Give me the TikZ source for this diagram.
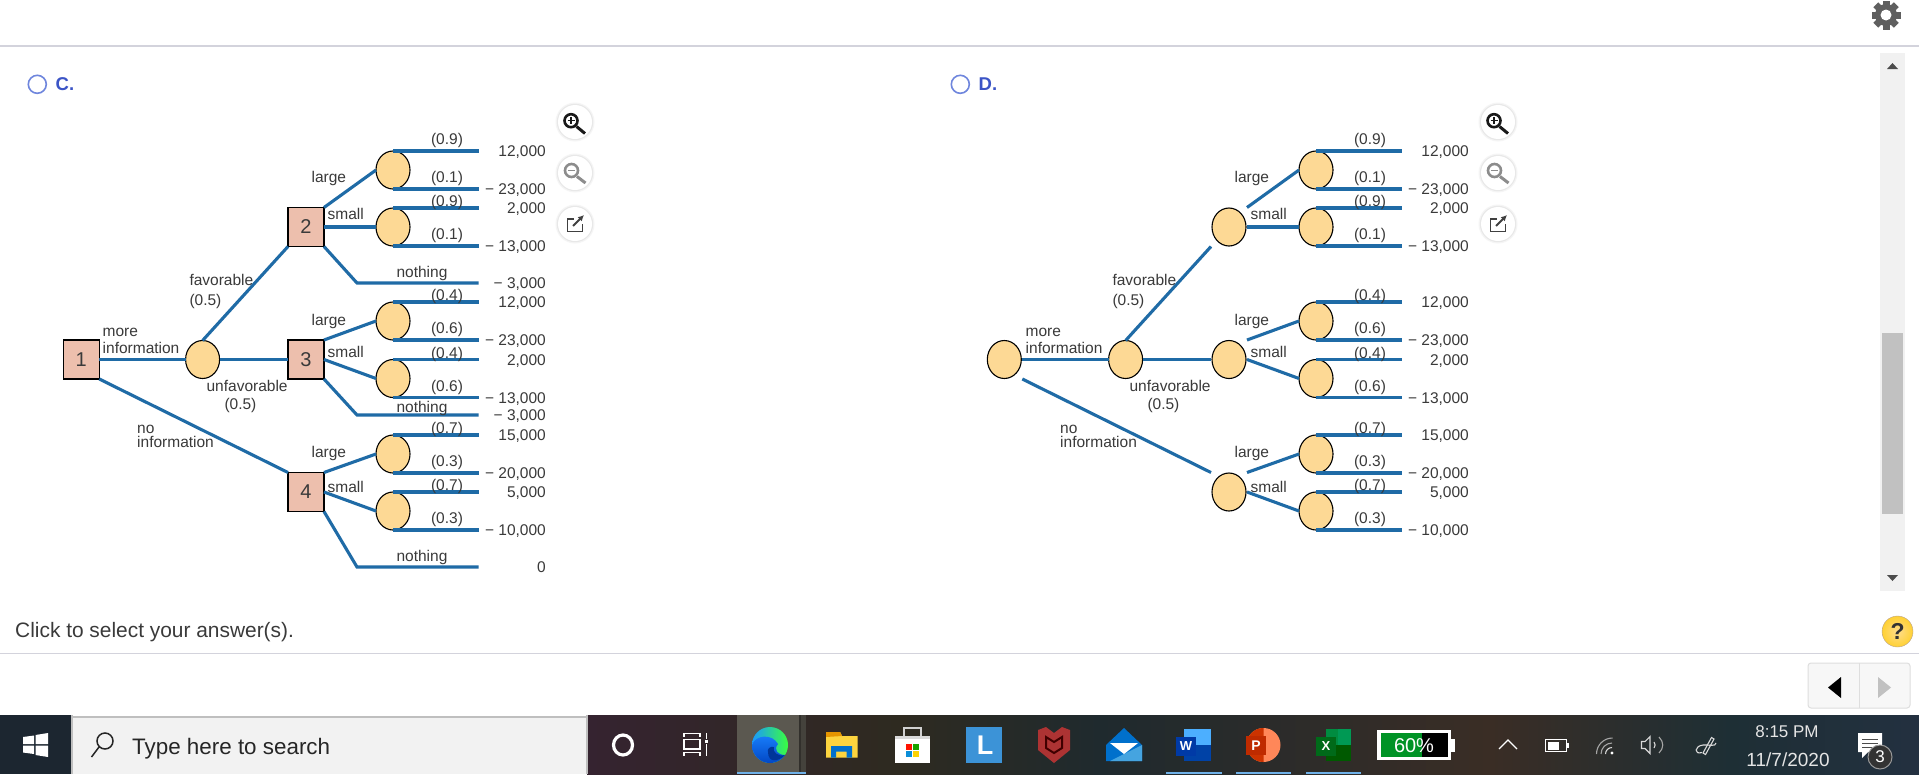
\documentclass[tikz,border=0pt]{standalone}
\usepackage{fontspec}
\usepackage{tikz}
\usepackage{xcolor}
\setmainfont{Liberation Sans}
\usetikzlibrary{arrows.meta,positioning,shapes.geometric,calc}
\definecolor{Branch}{HTML}{1F6BA6}
\definecolor{BoxFill}{HTML}{EDBFAD}
\definecolor{OvalFill}{HTML}{FDD995}
\definecolor{TextGray}{HTML}{3A3A3A}
\definecolor{RuleGray}{HTML}{D3D3DC}
\definecolor{RadioBlue}{HTML}{6F86DD}
\definecolor{LetterBlue}{HTML}{3B54C6}
\definecolor{Track}{HTML}{F1F1F1}
\definecolor{Thumb}{HTML}{C1C1C1}
\definecolor{GearGray}{HTML}{5F5F5F}
\definecolor{BarBlue}{HTML}{6FB1E8}
\definecolor{TbA}{HTML}{1C2630}
\definecolor{TbB}{HTML}{352330}
\definecolor{TbC}{HTML}{2E2A20}
\definecolor{TbD}{HTML}{1F2A2E}
\definecolor{TbE}{HTML}{3A2D25}
\definecolor{TbF}{HTML}{1E2F35}
\definecolor{TbG}{HTML}{233040}
\definecolor{EdgeTile}{HTML}{5B5850}
\tikzset{
  deci/.style={draw=black,line width=1.1pt,fill=BoxFill,rectangle,minimum width=36pt,minimum height=39pt,inner sep=0pt,outer sep=0pt,text=TextGray,font=\fontsize{20}{20}\selectfont},
  frame/.style={rectangle,minimum width=36pt,minimum height=39pt,inner sep=0pt,outer sep=0pt},
  chance/.style={draw=black,line width=1.1pt,fill=OvalFill,ellipse,minimum width=34pt,minimum height=38pt,inner sep=0pt,outer sep=0pt},
  branch/.style={draw=Branch,line width=3.1pt},
  lbl/.style={font=\fontsize{15.5}{16}\selectfont,text=TextGray,inner sep=0pt,anchor=west,text height=11pt,text depth=0pt},
  probtxt/.style={lbl,anchor=center},
  valtxt/.style={lbl,anchor=east},
  tray/.style={draw=white!85!black,line width=1.1pt},
  traydim/.style={draw=white!65!black,line width=1.1pt},
  barline/.style={fill=BarBlue}
}
\begin{document}
\begin{tikzpicture}[x=1pt,y=-1pt]
  \useasboundingbox (0,0) rectangle (1919,774);
  \fill[white] (0,0) rectangle (1919,774);
  \fill[RuleGray] (0,45) rectangle (1919,46.5);
  \fill[RuleGray] (0,652.5) rectangle (1919,654);
  \fill[GearGray] (1886,15) circle[radius=11];
  \foreach \a in {0,45,...,315} {
    \fill[GearGray,shift={(1886,15)},rotate=\a] (-3.5,-14.5) rectangle (3.5,-9);
  }
  \fill[white] (1886,15) circle[radius=5.5];

  \foreach \p/\dx/\name in {c/0/C.,d/923/D.} {
    \draw[RadioBlue,line width=1.6pt] (\dx+37.3,84.3) circle[radius=9];
    \node[anchor=west,inner sep=0pt,text=LetterBlue,font=\fontsize{18.5}{18}\selectfont\bfseries] (\p title) at (\dx+55.5,84) {\name};
    \foreach \y in {122,173,224} {
      \fill[black!4] (\dx+575,\y) circle[radius=19.5];
      \fill[black!9] (\dx+575,\y) circle[radius=18.2];
      \fill[white] (\dx+575,\y) circle[radius=17];
    }
    \draw[black!90,line width=2.6pt] (\dx+571,120.7) circle[radius=6.5];
    \draw[black!90,line width=3pt] (\dx+576.5,126.5) -- (\dx+585,133.5);
    \draw[black!90,line width=1.2pt] (\dx+567.5,120.7) -- (\dx+574.5,120.7) (\dx+571,117.2) -- (\dx+571,124.2);
    \draw[black!45,line width=2.6pt] (\dx+571.5,170.5) circle[radius=6.5];
    \draw[black!45,line width=3pt] (\dx+577,176.5) -- (\dx+585.5,183);
    \draw[black!45,line width=1.2pt] (\dx+568,170.5) -- (\dx+575,170.5);
    \draw[black!75,line width=1.9pt] (\dx+574,219) -- (\dx+567.5,219) -- (\dx+567.5,231.5) -- (\dx+582.5,231.5) -- (\dx+582.5,224);
    \draw[black!75,line width=1.9pt,-{Latex[length=6pt,width=6pt]}] (\dx+573,226) -- (\dx+584,215);
  }

  \foreach \id/\x/\y in {1/81.3/359.5,2/306/227,3/306/359.5,4/306/492} {
    \node[deci] (c\id) at (\x,\y) {\id};
    \node[chance] (o\id) at (\x+923,\y) {};
    \node[frame] (d\id) at (\x+923,\y) {};
  }

  \foreach \p/\dx in {c/0,d/923} {
    \node[chance] (\p a) at (\dx+202.6,359.5) {};
    \draw[branch] (\p1.east) -- (\p a.west);
    \draw[branch] (\p a.east) -- (\p3.west);
    \draw[branch] (\p a.north) -- (\p2.south west);
    \draw[branch] (\p1.south east) -- (\p4.north west);
    \node[lbl] (\p more) at (\dx+102.5,331.3) {more};
    \node[lbl] (\p info) at (\dx+102.5,348.3) {information};
    \node[lbl] (\p fav) at (\dx+189.3,280.3) {favorable};
    \node[lbl] (\p favp) at (\dx+189.3,300.3) {(0.5)};
    \node[lbl] (\p unf) at (\dx+206.4,385.7) {unfavorable};
    \node[lbl] (\p unfp) at (\dx+224.3,404) {(0.5)};
    \node[lbl] (\p no) at (\dx+137,428) {no};
    \node[lbl] (\p noinfo) at (\dx+137,442.3) {information};
    \foreach \m/\dec/\anc/\y/\pa/\ga/\va/\pb/\vb in {
      e/2/north east/170/0.9/12/{12,000}/0.1/{− 23,000},
      f/2/east/227/0.9/7/{2,000}/0.1/{− 13,000},
      g/3/north east/321/0.4/7/{12,000}/0.6/{− 23,000},
      h/3/east/378.5/0.4/7/{2,000}/0.6/{− 13,000},
      i/4/north east/454/0.7/7/{15,000}/0.3/{− 20,000},
      j/4/east/511/0.7/7/{5,000}/0.3/{− 10,000}} {
      \node[chance] (\p\m) at (\dx+393,\y) {};
      \draw[branch] (\p\dec.\anc) -- (\p\m.west);
      \draw[branch] (\p\m.north) -- ++(85.6,0) coordinate (\p\m top);
      \draw[branch] (\p\m.south) -- ++(85.6,0) coordinate (\p\m bot);
      \node[probtxt] (\p\m pa) at (\dx+447,\y-19-\ga) {(\pa)};
      \node[probtxt] (\p\m pb) at (\dx+447,\y+7) {(\pb)};
      \node[valtxt] (\p\m va) at (\dx+546,\y-19) {\va};
      \node[valtxt] (\p\m vb) at (\dx+546,\y+19) {\vb};
    }
    \foreach \id/\ya/\yb in {2/177/214.3,3/319.7/351.7,4/451.7/486.7} {
      \node[lbl] (\p large\id) at (\dx+311.4,\ya) {large};
      \node[lbl] (\p small\id) at (\dx+327.5,\yb) {small};
    }
  }

  \foreach \id/\y/\gap/\v in {2/283/11.3/{− 3,000},3/415/8.3/{− 3,000},4/567/11.3/0} {
    \coordinate (nb\id) at (357,\y);
    \coordinate (ne\id) at (478.6,\y);
    \draw[branch] (c\id.south east) -- (nb\id) -- (ne\id);
    \node[probtxt] (nt\id) at (422,\y-\gap) {nothing};
    \node[valtxt] (nv\id) at (546,\y) {\v};
  }

  \fill[Track] (1880,53) rectangle (1905,590.5);
  \fill[Thumb] (1882,333) rectangle (1903,514);
  \fill[black!70] (1887,69) -- (1898,69) -- (1892.5,63) -- cycle;
  \fill[black!70] (1887,575) -- (1898,575) -- (1892.5,581) -- cycle;
  \node[anchor=west,inner sep=0pt,text=TextGray,font=\fontsize{20.9}{21}\selectfont] (prompt) at (15,632) {Click to select your answer(s).};
  \shade[inner color=yellow!40!orange!45!white,outer color=yellow!55!orange!80!white,draw=orange!40!black!45] (1897.5,631.5) circle[radius=15.5];
  \node[text=black!80,font=\fontsize{23}{23}\selectfont\bfseries,inner sep=0pt] (help) at (1897.5,631.5) {?};
  \draw[black!13,fill=black!3,rounded corners=3pt,line width=1pt] (1808,663) rectangle (1910,708);
  \draw[black!13,line width=1pt] (1859,663) -- (1859,708);
  \fill[black] (1841,677) -- (1841,698) -- (1828,687.5) -- cycle;
  \fill[Thumb] (1878,677) -- (1878,698) -- (1891,687.5) -- cycle;

  \fill[TbA] (0,715) rectangle (72,774);
  \shade[left color=TbB,right color=TbC] (587,715) rectangle (900,774);
  \shade[left color=TbC,right color=TbD] (900,715) rectangle (1100,774);
  \shade[left color=TbD,right color=TbE] (1100,715) rectangle (1490,774);
  \shade[left color=TbE,right color=TbF] (1490,715) rectangle (1730,774);
  \shade[left color=TbF,right color=TbG] (1730,715) rectangle (1919,774);
  \fill[black!5] (72,716) rectangle (587,774);
  \draw[black!25,line width=1.5pt] (72,717) -- (587,717);
  \draw[black!25,line width=1.5pt] (72,715) -- (72,774) (587,715) -- (587,774);

  \fill[white] (23,737) -- (34,735.5) -- (34,744) -- (23,744) -- cycle;
  \fill[white] (35.5,735) -- (48,733) -- (48,744) -- (35.5,744) -- cycle;
  \fill[white] (23,745.5) -- (34,745.5) -- (34,754) -- (23,752.5) -- cycle;
  \fill[white] (35.5,745.5) -- (48,745.5) -- (48,757) -- (35.5,755) -- cycle;
  \draw[black!85,line width=1.5pt] (105,741) circle[radius=8] (99,747) -- (91.5,757);
  \node[anchor=west,inner sep=0pt,text=black!85,font=\fontsize{22.4}{22}\selectfont] (search) at (132,748.5) {Type here to search};

  \draw[white,line width=3.2pt] (623,745) ellipse[x radius=9.5,y radius=10];
  \draw[white,line width=1.2pt] (684,736.5) -- (684,733.5) -- (700,733.5) -- (700,736.5);
  \draw[white,line width=1.2pt] (684,739.5) rectangle (700,749);
  \draw[white,line width=1.2pt] (684,755.5) -- (684,752.5) -- (700,752.5) -- (700,755.5);
  \draw[white,line width=1.2pt] (706.5,733) -- (706.5,739) (706.5,744) -- (706.5,756);
  \fill[white] (705,740) rectangle (708,743);

  \fill[EdgeTile] (737,715) rectangle (799,774);
  \fill[EdgeTile!55!black] (799,715) rectangle (801,774);
  \fill[EdgeTile!75!black] (801,715) rectangle (806,774);
  \fill[BarBlue] (737,772) rectangle (806,774);
  \shade[left color=cyan!55!blue!90!white,right color=green!70!yellow!75!cyan] (770,745) circle[radius=18];
  \shade[top color=cyan!45!blue!90!white,bottom color=blue!65!cyan!75!black] (752,745) .. controls (755,735) and (772,733) .. (778,744) .. controls (773,750) and (778,755) .. (785,755) arc[start angle=33.7,end angle=180,radius=18] -- cycle;
  \fill[blue!65!cyan!60!black] (768,752) .. controls (768,763) and (778,762) .. (785,755) .. controls (778,757) and (772,752) .. (774,747) .. controls (770,746) and (767,749) .. cycle;

  \fill[yellow!60!orange!75!white] (826,732) -- (840,732) -- (842,736) -- (857.5,736) -- (857.5,757.5) -- (826,757.5) -- cycle;
  \fill[orange!70!yellow!90!black] (826,732) -- (840,732) -- (842,736) -- (826,737) -- cycle;
  \fill[blue!45!cyan!80!black] (831,757.5) -- (831,746) -- (852,746) -- (852,757.5) -- (846.7,757.5) -- (846.7,751.5) -- (836,751.5) -- (836,757.5) -- cycle;

  \draw[black!18,line width=2pt] (904,736) -- (904,728) -- (921,728) -- (921,736);
  \fill[white] (895,736) rectangle (930,763);
  \fill[black!15] (895,736) rectangle (930,739);
  \fill[red!85!orange] (906,744) rectangle (912.3,750.3);
  \fill[green!60!black!90!yellow] (913,744) rectangle (919.3,750.3);
  \fill[cyan!75!blue] (906,751) rectangle (912.3,757.3);
  \fill[yellow!70!orange] (913,751) rectangle (919.3,757.3);

  \fill[cyan!65!blue!80!white] (966,727) rectangle (1002,763);
  \node[text=white,font=\fontsize{27}{27}\selectfont\bfseries,inner sep=0pt] (applaunch) at (985,745) {L};

  \fill[red!60!black!80!white] (1038,730) -- (1046,727) -- (1054,733) -- (1062,727) -- (1070,730) -- (1070,750) -- (1054,763) -- (1038,750) -- cycle;
  \draw[black!75!red,line width=2pt] (1046,737) -- (1046,748) -- (1054,753) -- (1062,748) -- (1062,737) -- (1054,742) -- cycle;

  \fill[blue!45!cyan!80!black] (1124,728) -- (1142,745) -- (1142,761) -- (1106,761) -- (1106,745) -- cycle;
  \fill[cyan!75!blue!75!white] (1142,745) -- (1142,761) -- (1110,761) -- cycle;
  \fill[white] (1110,743) -- (1138,743) -- (1124,754) -- cycle;

  \fill[blue!45!cyan!70!white] (1184,729) rectangle (1211,745);
  \fill[blue!60!cyan!65!black] (1184,745) rectangle (1211,761);
  \fill[blue!65!cyan!65!black] (1176,737) rectangle (1196,756);
  \node[text=white,font=\fontsize{13}{13}\selectfont\bfseries,inner sep=0pt] (appword) at (1186,746.5) {W};

  \fill[orange!55!red!65!white] (1263.5,745) circle[radius=17];
  \fill[orange!50!red!80!black] (1263.5,745) -- (1263.5,762) arc[start angle=90,end angle=270,radius=17] -- cycle;
  \fill[red!55!orange!75!black] (1246,736) rectangle (1266,755);
  \node[text=white,font=\fontsize{14}{14}\selectfont\bfseries,inner sep=0pt] (appslide) at (1256,745.5) {P};

  \fill[green!40!black!75!cyan] (1326,729) rectangle (1351,761);
  \fill[green!45!cyan!60!black] (1338,729) rectangle (1351,745);
  \fill[green!35!black] (1326,745) rectangle (1351,761);
  \fill[green!35!black!90!cyan] (1316,737) rectangle (1336,756);
  \node[text=white,font=\fontsize{13}{13}\selectfont\bfseries,inner sep=0pt] (appsheet) at (1326,746.5) {X};

  \foreach \xa/\xb in {1166/1222,1236/1291,1306/1361} {
    \fill[barline] (\xa,772) rectangle (\xb,774);
  }

  \fill[white] (1377,730) rectangle (1451,760);
  \fill[white] (1451,739) rectangle (1454.5,752);
  \fill[green!50!black!85!cyan] (1381,733) rectangle (1422,757);
  \fill[black] (1422,733) rectangle (1448,757);
  \node[text=white,font=\fontsize{20}{20}\selectfont,inner sep=0pt] (batt) at (1414,746) {60\%};

  \draw[white,line width=1.2pt] (1499,749) -- (1508,740) -- (1517,749);
  \draw[white,line width=1.2pt] (1545.5,739.5) rectangle (1566.5,751.5);
  \fill[white] (1547.5,741.5) rectangle (1559,749.5);
  \fill[white] (1567,743) rectangle (1568.5,748);
  \draw[traydim] (1596.5,754) arc[start angle=180,end angle=270,radius=16];
  \draw[traydim] (1601,754) arc[start angle=180,end angle=270,radius=11];
  \draw[tray] (1605.5,754) arc[start angle=180,end angle=270,radius=6.5];
  \fill[white] (1612,753) circle[radius=1.6];
  \draw[tray] (1641.5,741.5) -- (1645,741.5) -- (1650,736.5) -- (1650,753.5) -- (1645,748.5) -- (1641.5,748.5) -- cycle;
  \draw[tray] (1654,742) .. controls (1655.5,744) and (1655.5,746) .. (1654,748);
  \draw[traydim] (1659,737) .. controls (1664,742) and (1664,748) .. (1659,753);
  \draw[tray] (1703,753) -- (1711.5,737.5) -- (1714,739) -- (1705.5,754.5) -- cycle;
  \draw[tray] (1702,752.5) .. controls (1694,755) and (1694,746) .. (1703,745) .. controls (1708,744.5) and (1716,747) .. (1716,743);

  \node[text=white!90!black,font=\fontsize{17}{17}\selectfont,inner sep=0pt] (clock) at (1787,732) {8:15 PM};
  \node[text=white!90!black,font=\fontsize{19}{19}\selectfont,inner sep=0pt] (date) at (1788,760) {11/7/2020};
  \fill[white] (1858,733) rectangle (1882,752) (1862,752) -- (1868,752) -- (1862,758) -- cycle;
  \draw[black!70,line width=1pt] (1862,739) -- (1878,739) (1862,743) -- (1878,743) (1862,747) -- (1872,747);
  \draw[black!40,fill=black!80,line width=1pt] (1880,757) circle[radius=12];
  \node[text=white,font=\fontsize{17}{17}\selectfont,inner sep=0pt] (badge) at (1880,757) {3};
\end{tikzpicture}
\end{document}
